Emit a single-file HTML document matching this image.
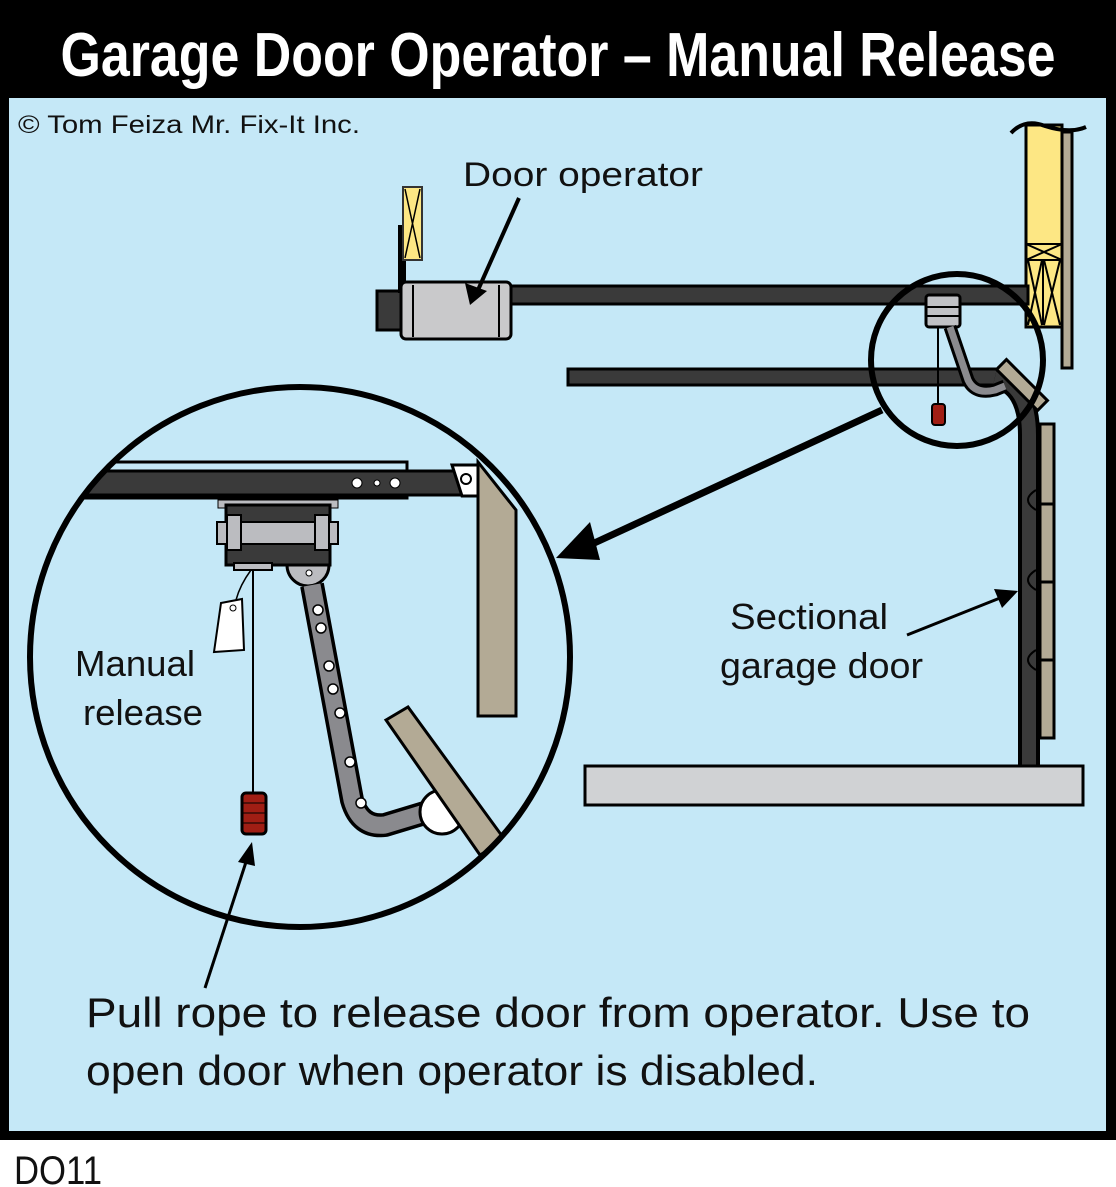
<!DOCTYPE html>
<html><head><meta charset="utf-8"><style>
html,body{margin:0;padding:0;background:#fff}
svg{display:block}
text{font-family:"Liberation Sans",sans-serif}
</style></head><body>
<svg width="1116" height="1187" viewBox="0 0 1116 1187" xmlns="http://www.w3.org/2000/svg">
<defs><clipPath id="bc"><circle cx="300" cy="657" r="270"/></clipPath>
<clipPath id="sc"><circle cx="957" cy="360" r="86"/></clipPath></defs>
<rect x="0" y="0" width="1116" height="1140" fill="#000"/>
<rect x="9" y="98" width="1097" height="1033" fill="#c5e8f7"/>
<rect x="0" y="1140" width="1116" height="47" fill="#fff"/>
<text x="558" y="76" text-anchor="middle" fill="#fff" font-size="62" font-weight="bold" style="font-family:'Liberation Sans Narrow','Liberation Sans',sans-serif" textLength="995" lengthAdjust="spacingAndGlyphs">Garage Door Operator – Manual Release</text>
<text x="18" y="133" font-size="25" fill="#111" textLength="342" lengthAdjust="spacingAndGlyphs">© Tom Feiza Mr. Fix-It Inc.</text>
<text x="14" y="1184" font-size="40" fill="#111" textLength="88" lengthAdjust="spacingAndGlyphs">DO11</text>

<rect x="1062" y="132" width="10" height="236" fill="#b3aa95" stroke="#000" stroke-width="3"/>
<rect x="1026" y="125" width="36" height="202" fill="#fde784" stroke="#000" stroke-width="3"/>
<path d="M1011 133 Q1025 118 1045 126 Q1070 134 1086 127" fill="none" stroke="#000" stroke-width="4"/>
<line x1="1026" y1="244" x2="1062" y2="244" stroke="#000" stroke-width="2"/>
<line x1="1026" y1="260" x2="1062" y2="260" stroke="#000" stroke-width="2"/>
<path d="M1026 244 L1062 260 M1062 244 L1026 260 M1028 260 L1042 325 M1042 260 L1028 325 M1044 260 L1060 325 M1060 260 L1044 325 M1043 260 V325" stroke="#000" stroke-width="2"/>

<rect x="510" y="286" width="518" height="18" fill="#3a3a3a" stroke="#000" stroke-width="3"/>
<rect x="377" y="291" width="26" height="39" fill="#3a3a3a" stroke="#000" stroke-width="3"/>
<rect x="398" y="225" width="8" height="68" fill="#000"/>
<rect x="403" y="187" width="19" height="73" fill="#fde784" stroke="#333" stroke-width="2"/>
<path d="M405 189 L420 258 M420 189 L405 258" stroke="#000" stroke-width="1.5"/>
<rect x="401" y="282" width="110" height="57" rx="5" fill="#c9c9cb" stroke="#000" stroke-width="3"/>
<line x1="413" y1="285" x2="413" y2="337" stroke="#000" stroke-width="2"/>
<line x1="499" y1="285" x2="499" y2="337" stroke="#000" stroke-width="2"/>
<text x="463" y="186" font-size="34" fill="#111" textLength="240" lengthAdjust="spacingAndGlyphs">Door operator</text>
<line x1="519" y1="198" x2="478" y2="290" stroke="#000" stroke-width="4"/>
<polygon points="470,305 465,283 487,291" fill="#000"/>

<rect x="568" y="369" width="432" height="16" fill="#3a3a3a" stroke="#000" stroke-width="3"/>
<path d="M995 377 Q1029 385 1029 435 V768" fill="none" stroke="#000" stroke-width="22"/>
<path d="M995 377 Q1029 385 1029 435 V768" fill="none" stroke="#3a3a3a" stroke-width="14"/>
<g fill="#b3aa95" stroke="#000" stroke-width="3">
<rect x="1040" y="424" width="14" height="80"/><rect x="1040" y="504" width="14" height="78"/>
<rect x="1040" y="582" width="14" height="78"/><rect x="1040" y="660" width="14" height="78"/>
</g>
<g fill="none" stroke="#000" stroke-width="2">
<path d="M1036 490 Q1020 500 1036 510"/><path d="M1036 570 Q1020 580 1036 590"/><path d="M1036 650 Q1020 660 1036 670"/>
</g>
<rect x="585" y="766" width="498" height="39" fill="#d0d2d4" stroke="#000" stroke-width="3"/>

<g clip-path="url(#sc)">
<rect x="926" y="295" width="34" height="32" rx="3" fill="#c0c1c5" stroke="#000" stroke-width="3"/>
<line x1="927" y1="307" x2="959" y2="307" stroke="#000" stroke-width="2"/>
<line x1="927" y1="316" x2="959" y2="316" stroke="#000" stroke-width="2"/>
<path d="M950 327 L968 380 Q975 395 995 390 L1005 386" fill="none" stroke="#000" stroke-width="13"/>
<path d="M950 327 L968 380 Q975 395 995 390 L1005 386" fill="none" stroke="#8a8a8e" stroke-width="7"/>
<line x1="938" y1="327" x2="938" y2="405" stroke="#000" stroke-width="2"/>
<rect x="932" y="404" width="13" height="21" rx="3" fill="#a01e14" stroke="#000" stroke-width="2"/>
</g>
<g transform="rotate(45 1022 385)"><rect x="993" y="378" width="58" height="14" fill="#b3aa95" stroke="#000" stroke-width="3"/></g>
<circle cx="957" cy="360" r="86" fill="none" stroke="#000" stroke-width="6"/>
<line x1="882" y1="410" x2="590" y2="545" stroke="#000" stroke-width="7"/>
<polygon points="556,558 590,522 600,560" fill="#000"/>

<g clip-path="url(#bc)">
<rect x="20" y="462" width="387" height="36" fill="#c5e8f7" stroke="#000" stroke-width="3"/>
<path d="M20 471 H455 L470 495 H20 Z" fill="#3a3a3a" stroke="#000" stroke-width="3"/>
<circle cx="357" cy="483" r="5" fill="#fff" stroke="#000"/><circle cx="377" cy="483" r="3" fill="#fff" stroke="#000"/><circle cx="395" cy="483" r="5" fill="#fff" stroke="#000"/>
<polygon points="452,465 478,465 478,496 462,496" fill="#fff" stroke="#000" stroke-width="3"/>
<circle cx="466" cy="479" r="5" fill="#fff" stroke="#000" stroke-width="2"/>
<polygon points="478,462 516,510 516,716 478,716" fill="#b3aa95" stroke="#000" stroke-width="3"/>
<rect x="218" y="500" width="120" height="8" fill="#bbbcc0" stroke="#000" stroke-width="1"/>
<rect x="226" y="505" width="104" height="60" fill="#3a3a3a" stroke="#000" stroke-width="3"/>
<rect x="217" y="522" width="121" height="22" fill="#bbbcc0" stroke="#000" stroke-width="2"/>
<rect x="227" y="515" width="14" height="35" fill="#bbbcc0" stroke="#000" stroke-width="2"/>
<rect x="315" y="515" width="14" height="35" fill="#bbbcc0" stroke="#000" stroke-width="2"/>
<rect x="234" y="563" width="38" height="7" fill="#bbbcc0" stroke="#000" stroke-width="2"/>
<path d="M287 565 A21 21 0 0 0 329 565 Z" fill="#bbbcc0" stroke="#000" stroke-width="3"/>
<circle cx="309" cy="573" r="3" fill="#fff" stroke="#000"/>
<path d="M312 585 L352 800 Q360 828 385 825 L428 812" fill="none" stroke="#000" stroke-width="24" stroke-linejoin="round"/>
<path d="M312 585 L352 800 Q360 828 385 825 L428 812" fill="none" stroke="#8a8a8e" stroke-width="17" stroke-linejoin="round"/>
<g fill="#fff" stroke="#000" stroke-width="1.5">
<circle cx="318" cy="610" r="5"/><circle cx="321" cy="628" r="5"/><circle cx="329" cy="666" r="5"/><circle cx="333" cy="689" r="5"/><circle cx="340" cy="713" r="5"/><circle cx="350" cy="762" r="5"/><circle cx="361" cy="803" r="5"/><circle cx="425" cy="813" r="3"/>
</g>
<circle cx="442" cy="812" r="22" fill="#fff" stroke="#000" stroke-width="3"/>
<polygon points="386,720 408,707 505,840 480,855" fill="#b3aa95" stroke="#000" stroke-width="3"/>
<line x1="253" y1="570" x2="253" y2="795" stroke="#000" stroke-width="2"/>
<path d="M251 570 Q240 585 236 600" fill="none" stroke="#000" stroke-width="1.5"/>
<polygon points="221,603 242,599 244,650 214,652" fill="#fff" stroke="#000" stroke-width="2"/>
<circle cx="233" cy="608" r="3" fill="#fff" stroke="#000"/>
<rect x="242" y="793" width="24" height="41" rx="4" fill="#a01e14" stroke="#000" stroke-width="3"/>
<g stroke="#000" stroke-width="1"><line x1="243" y1="803" x2="265" y2="803"/><line x1="243" y1="813" x2="265" y2="813"/><line x1="243" y1="823" x2="265" y2="823"/></g>
</g>
<circle cx="300" cy="657" r="270" fill="none" stroke="#000" stroke-width="6"/>
<text x="75" y="676" font-size="36" fill="#111" textLength="120" lengthAdjust="spacingAndGlyphs">Manual</text>
<text x="83" y="725" font-size="36" fill="#111" textLength="120" lengthAdjust="spacingAndGlyphs">release</text>
<text x="730" y="629" font-size="36" fill="#111" textLength="158" lengthAdjust="spacingAndGlyphs">Sectional</text>
<text x="720" y="678" font-size="36" fill="#111" textLength="203" lengthAdjust="spacingAndGlyphs">garage door</text>
<line x1="907" y1="635" x2="1000" y2="598" stroke="#000" stroke-width="3"/>
<polygon points="1018,591 994,589 1002,608" fill="#000"/>
<line x1="205" y1="988" x2="246" y2="862" stroke="#000" stroke-width="3"/>
<polygon points="252,842 238,862 255,866" fill="#000"/>
<text x="86" y="1027" font-size="42" fill="#111" textLength="944" lengthAdjust="spacingAndGlyphs">Pull rope to release door from operator.  Use to</text>
<text x="86" y="1085" font-size="42" fill="#111" textLength="732" lengthAdjust="spacingAndGlyphs">open door when operator is disabled.</text>
</svg>
</body></html>
